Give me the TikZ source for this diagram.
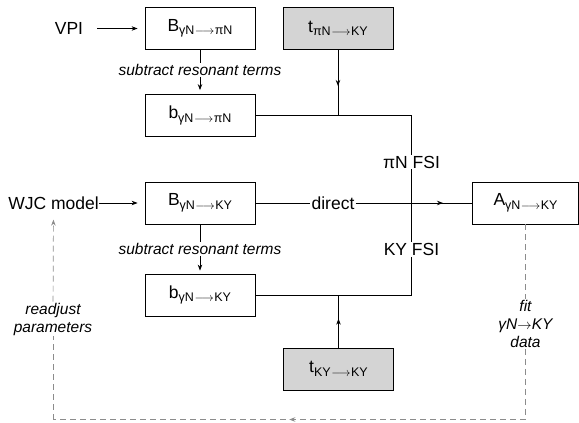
\documentclass[tikz,border=0pt]{standalone}
\usepackage{fontspec}
\setmainfont{Liberation Sans}
\usetikzlibrary{arrows.meta,decorations.markings}
\definecolor{shadegray}{RGB}{212,212,212}
\definecolor{fbgray}{RGB}{140,140,140}
\newcommand{\subl}[1]{\raisebox{-3.5pt}{\fontsize{12.5}{12}\selectfont #1}}
\newcommand{\la}{\kern0.5pt$\longrightarrow$\kern0.5pt}
\newcommand{\ra}{$\rightarrow$}
\begin{document}
\begin{tikzpicture}[x=1pt,y=-1pt,
  box/.style={draw,line width=0.8pt,minimum width=110pt,minimum height=42pt,inner sep=0pt,font=\fontsize{17.5}{20}\selectfont},
  shadedbox/.style={box,fill=shadegray},
  lab/.style={font=\fontsize{17.5}{20}\selectfont,inner sep=1pt},
  note/.style={font=\itshape\fontsize{15.5}{18}\selectfont,align=center,inner sep=1pt},
  conn/.style={line width=0.8pt},
  tip/.style={-{Stealth[length=6pt,width=4.5pt]}},
  midarrow/.style={postaction={decorate},decoration={markings,mark=at position #1 with {\arrow{Stealth[length=6pt,width=4.5pt]}}}},
  fb/.style={draw=fbgray,fbgray,line width=0.7pt,dash pattern=on 6pt off 4pt}
]
\useasboundingbox (0,0) rectangle (579,423);
% nodes
\node[lab] (vpi) at (69,28.5) {VPI};
\node[box] (Bpi) at (200,28.5) {B\subl{γN\la πN}};
\node[box] (bpi) at (200,115.5) {b\subl{γN\la πN}};
\node[shadedbox] (tpi) at (338,28.5) {t\subl{πN\la KY}};
\node[lab,inner sep=0pt] (wjc) at (53.5,203) {WJC model};
\node[box] (Bky) at (200,203) {B\subl{γN\la KY}};
\node[box] (bky) at (200,295) {b\subl{γN\la KY}};
\node[shadedbox] (tky) at (338.5,369) {t\subl{KY\la KY}};
\node[box,minimum width=106pt] (A) at (525.5,203) {A\subl{γN\la KY}};
\node[note] (s1) at (200,70) {subtract resonant terms};
\node[note] (s2) at (200,249) {subtract resonant terms};
\node[lab] (direct) at (333,203) {direct};
\node[lab] (fpi) at (411.5,162) {πN FSI};
\node[lab] (fky) at (411.5,249.5) {KY FSI};
\node[note] (readj) at (53,319) {readjust\\parameters};
\node[note] (fit) at (525.5,324) {fit\\γN\ra KY\\data};
% coordinates
\coordinate (jpi) at (338,115.5);
\coordinate (c1) at (411.5,115.5);
\coordinate (jky) at (338.5,295);
\coordinate (c2) at (411.5,295);
\coordinate (d1) at (525.5,419.5);
\coordinate (d2) at (53,419.5);
% connectors
\draw[conn,tip,shorten <=13pt,shorten >=7pt] (vpi) -- (Bpi);
\draw[conn,tip,shorten >=7pt] (wjc) -- (Bky);
\draw[conn] (Bpi) -- (s1);
\draw[conn,tip,shorten >=4pt] (s1) -- (bpi);
\draw[conn] (Bky) -- (s2);
\draw[conn,tip,shorten >=3pt] (s2) -- (bky);
\draw[conn,midarrow=0.55] (tpi) -- (jpi);
\draw[conn] (bpi) -- (c1) -- (fpi);
\draw[conn] (fpi) -- (fky);
\draw[conn] (fky) -- (c2) -- (bky);
\draw[conn,midarrow=0.55] (tky) -- (jky);
\draw[conn] (Bky) -- (direct);
\draw[conn,midarrow=0.75] (direct) -- (A);
% feedback loop
\draw[fb] (A) -- (fit);
\draw[fb] (fit) -- (d1);
\draw[fb,midarrow=0.5] (d1) -- (d2);
\draw[fb] (d2) -- (readj);
\draw[fb,tip,shorten >=10pt] (readj) -- (wjc);
\end{tikzpicture}
\end{document}
